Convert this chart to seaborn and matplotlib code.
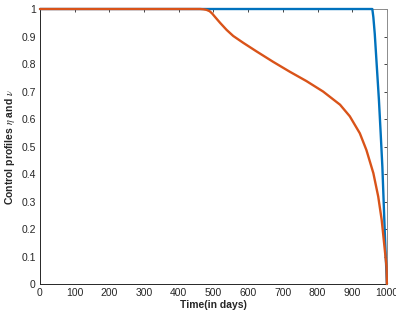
import matplotlib
matplotlib.use('Agg')
import matplotlib.pyplot as plt
import seaborn as sns
import pandas as pd

# control profiles
eta_days = [0, 958, 961, 965, 971, 977, 982, 987, 990.5, 994, 998, 1000]
eta_vals = [1, 1, 0.97, 0.91, 0.79, 0.67, 0.55, 0.425, 0.305, 0.185, 0.062, 0.0]

nu_days = [0, 462, 471, 480, 489, 496, 504, 519, 538, 557, 586, 624, 672,
           720, 768, 816, 865, 893, 922, 941, 961, 975, 985, 992, 999, 1000]
nu_vals = [1, 1, 0.999, 0.997, 0.992, 0.984, 0.972, 0.95, 0.924, 0.902,
           0.877, 0.846, 0.808, 0.772, 0.738, 0.70, 0.652, 0.61, 0.548,
           0.487, 0.403, 0.318, 0.233, 0.148, 0.063, 0.0]

x_ticks = list(range(0, 1001, 100))
y_ticks = [0, 0.1, 0.2, 0.3, 0.4, 0.5, 0.6, 0.7, 0.8, 0.9, 1]
y_labels = ['0', '0.1', '0.2', '0.3', '0.4', '0.5', '0.6', '0.7', '0.8', '0.9', '1']

df = pd.concat([
    pd.DataFrame({'t': eta_days, 'v': eta_vals, 'ctrl': 'eta'}),
    pd.DataFrame({'t': nu_days, 'v': nu_vals, 'ctrl': 'nu'}),
])

sns.set_style('white')
plt.rcParams['font.family'] = ['Liberation Sans', 'DejaVu Sans']
plt.rcParams['mathtext.fontset'] = 'stix'

fig = plt.figure(figsize=(3.96, 3.22), dpi=100)
ax = fig.add_axes([0.101, 0.118, 0.876, 0.854])

# blue first, orange drawn over it along the shared plateau
sns.lineplot(data=df, x='t', y='v', hue='ctrl', hue_order=['eta', 'nu'],
             palette={'eta': '#0072BD', 'nu': '#D95319'}, linewidth=1.7,
             sort=False, legend=False, ax=ax)
for ln in ax.lines:
    ln.set_clip_on(False)
    ln.set_solid_joinstyle('round')
ax.lines[0].set_zorder(3)
ax.lines[1].set_zorder(4)

ax.set_xlim(0, 1000)
ax.set_ylim(0, 1)
ax.set_xticks(x_ticks)
ax.set_yticks(y_ticks)
ax.set_yticklabels(y_labels)
ax.tick_params(direction='in', length=2.5, width=0.6, labelsize=7.5,
               top=True, right=True, colors='#262626', pad=3)

ax.set_xlabel('Time(in days)', fontsize=7.5, fontweight='bold', labelpad=1)
ax.set_ylabel(r'Control profiles $\eta$ and $\nu$', fontsize=7.5,
              fontweight='bold', labelpad=3)

for side in ['left', 'bottom']:
    ax.spines[side].set_color('#262626')
    ax.spines[side].set_linewidth(0.7)
for side in ['top', 'right']:
    ax.spines[side].set_color('#8c8c8c')
    ax.spines[side].set_linewidth(0.7)

fig.savefig('out.png', dpi=100)
